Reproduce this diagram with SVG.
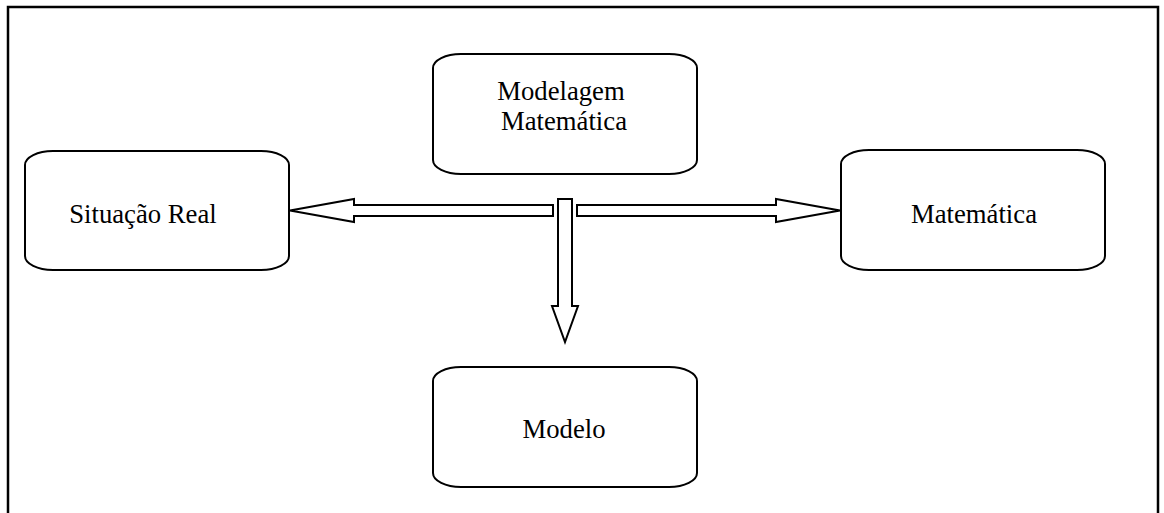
<svg xmlns="http://www.w3.org/2000/svg" width="1164" height="513" viewBox="0 0 1164 513">
<style>
.box{fill:#fff;stroke:#000;stroke-width:2}
.lbl{font-family:"Liberation Serif","Times New Roman",serif;font-size:26.7px;fill:#000;text-anchor:middle}
.arr{fill:#fff;stroke:#000;stroke-width:2;stroke-linejoin:miter}
</style>
<rect width="1164" height="513" fill="#fff"/>
<path d="M8,520 V7 H1158 V520" fill="none" stroke="#000" stroke-width="2.5"/>
<g id="modelagem">
<rect class="box" x="433" y="54" width="264" height="120" rx="28" ry="14"/>
<text class="lbl" x="561" y="100">Modelagem</text>
<text class="lbl" x="564" y="130">Matemática</text>
</g>
<g id="situacao">
<rect class="box" x="25" y="151" width="264" height="119" rx="28" ry="14"/>
<text class="lbl" x="143" y="223">Situação Real</text>
</g>
<g id="matematica">
<rect class="box" x="841" y="150" width="264" height="120" rx="28" ry="14"/>
<text class="lbl" x="974" y="223">Matemática</text>
</g>
<g id="modelo">
<rect class="box" x="433" y="367" width="264" height="120" rx="28" ry="14"/>
<text class="lbl" x="564" y="438">Modelo</text>
</g>
<g id="connectors">
<path class="arr" d="M553,205 H354 V199 L290,210.5 L354,222 V216 H553 Z"/>
<path class="arr" d="M577,205 H776 V199 L840,210.5 L776,222 V216 H577 Z"/>
<path class="arr" d="M558,199 H572 V306 H578 L565,342 L552,306 H558 Z"/>
</g>
</svg>
